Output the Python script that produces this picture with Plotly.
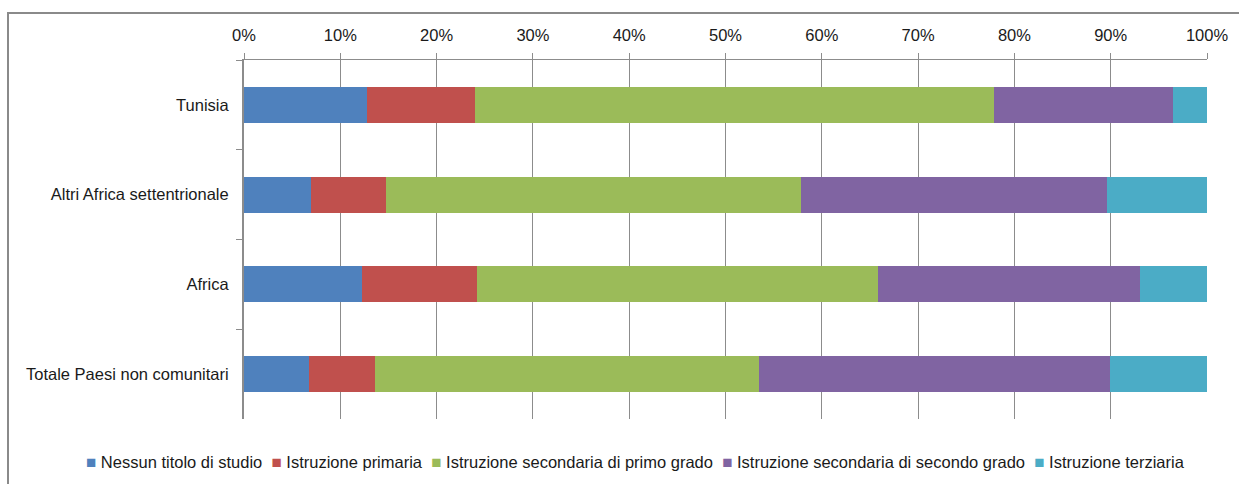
import plotly.graph_objects as go

# Livello di istruzione per area di provenienza (quote percentuali)
categories = ["Tunisia", "Altri Africa settentrionale", "Africa", "Totale Paesi non comunitari"]
series_names = [
    "Nessun titolo di studio",
    "Istruzione primaria",
    "Istruzione secondaria di primo grado",
    "Istruzione secondaria di secondo grado",
    "Istruzione terziaria",
]
nessun_titolo = [12.8, 7.0, 12.3, 6.8]
primaria = [11.2, 7.7, 11.9, 6.8]
secondaria_primo = [53.9, 43.1, 41.6, 39.9]
secondaria_secondo = [18.6, 31.8, 27.2, 36.4]
terziaria = [3.5, 10.4, 7.0, 10.1]
tick_values = [0, 10, 20, 30, 40, 50, 60, 70, 80, 90, 100]
tick_labels = ["0%", "10%", "20%", "30%", "40%", "50%", "60%", "70%", "80%", "90%", "100%"]

colors = ["#4F81BD", "#C0504D", "#9BBB59", "#8064A2", "#4BACC6"]
series_values = [nessun_titolo, primaria, secondaria_primo, secondaria_secondo, terziaria]

FONT = "Liberation Sans, Arial, sans-serif"
FS = 16.5
TXT = "#1a1a1a"

fig = go.Figure()
for name, vals, col in zip(series_names, series_values, colors):
    fig.add_trace(go.Bar(
        y=categories,
        x=vals,
        name=name,
        orientation="h",
        marker=dict(color=col, line=dict(width=0)),
        showlegend=False,
    ))

W, H = 1239, 484
L, R, T, B = 244, 32, 60, 65
pw, ph = W - L - R, H - T - B

# Single-line legend: coloured square followed by the series name
legend_parts = [
    f"<span style='color:{col};font-size:17px'>■</span> {name}"
    for name, col in zip(series_names, colors)
]
legend_text = "&nbsp;&nbsp;".join(legend_parts)

fig.update_layout(
    width=W,
    height=H,
    barmode="stack",
    bargap=0.6,
    margin=dict(l=L, r=R, t=T, b=B, autoexpand=False),
    paper_bgcolor="white",
    plot_bgcolor="white",
    font=dict(family=FONT, size=FS, color=TXT),
    showlegend=False,
    xaxis=dict(
        side="top",
        range=[0, 100],
        tickvals=tick_values,
        ticktext=tick_labels,
        showgrid=True,
        gridcolor="#8c8c8c",
        gridwidth=1,
        showline=True,
        linecolor="#8c8c8c",
        linewidth=1,
        ticks="outside",
        ticklen=6,
        tickcolor="#8c8c8c",
        ticklabelstandoff=5,
        zeroline=False,
        fixedrange=True,
    ),
    yaxis=dict(
        autorange="reversed",
        showline=True,
        linecolor="#8c8c8c",
        linewidth=2,
        ticks="outside",
        tickson="boundaries",
        ticklen=6,
        tickcolor="#8c8c8c",
        ticklabelstandoff=10,
        showgrid=False,
        fixedrange=True,
    ),
    annotations=[
        dict(
            text=legend_text,
            xref="paper", yref="paper",
            x=(635 - L) / pw, y=(T + ph - 462) / ph,
            xanchor="center", yanchor="middle",
            showarrow=False,
            font=dict(family=FONT, size=FS, color=TXT),
        )
    ],
    shapes=[
        dict(
            type="rect",
            xref="paper", yref="paper",
            x0=(8 - L) / pw, x1=(W + 200 - L) / pw,
            y0=(T + ph - (H + 200)) / ph, y1=(T + ph - 13) / ph,
            line=dict(color="#8a8a8a", width=2),
            fillcolor="rgba(0,0,0,0)",
            layer="below",
        )
    ],
)

fig.write_html("out.html")
